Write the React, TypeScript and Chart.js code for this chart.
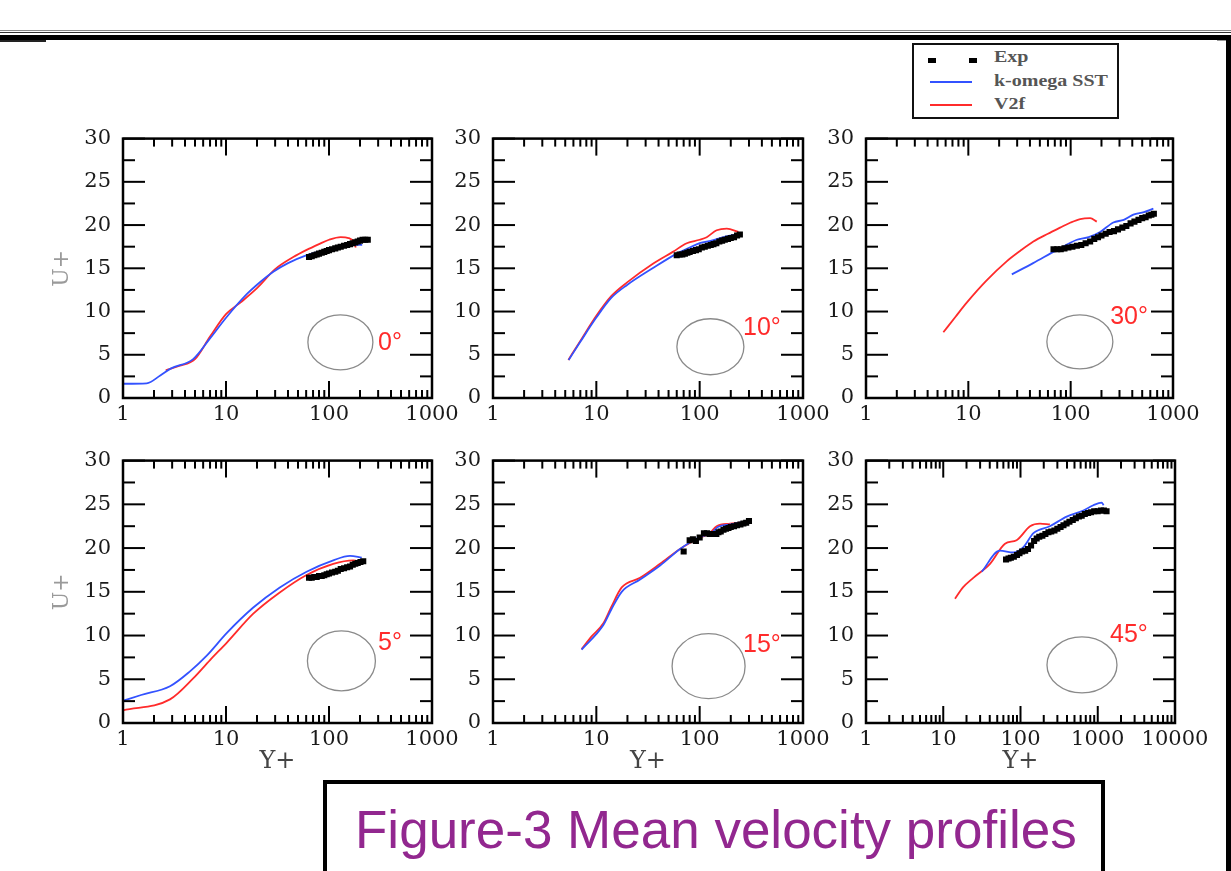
import React, { useEffect, useRef } from 'react';
import { Chart, registerables } from 'chart.js';

Chart.register(...registerables);

type Pt = [number, number];

// ---------- tick / text data ----------
const Y_TICKS = [0, 5, 10, 15, 20, 25, 30];
const X_TICKS_3 = [1, 10, 100, 1000];
const X_TICKS_4 = [1, 10, 100, 1000, 10000];
const ANGLE_LABELS = ['0°', '10°', '30°', '5°', '15°', '45°'];
const SERIES_NAMES = ['Exp', 'k-omega SST', 'V2f'];
const X_TITLE = 'Y+';
const Y_TITLE = 'U+';
const CAPTION = 'Figure-3 Mean velocity profiles';

// ---------- series (Y+, U+) ----------
const exp0: Pt[] = [[64, 16.3], [68, 16.4], [72, 16.5], [76, 16.6], [80, 16.7], [85, 16.8], [90, 16.9], [95, 17.0], [100, 17.1], [107, 17.2], [115, 17.3], [122, 17.4], [130, 17.5], [140, 17.6], [150, 17.7], [160, 17.8], [170, 17.9], [180, 18.0], [190, 18.1], [200, 18.2], [212, 18.3], [225, 18.3], [238, 18.3]];
const sst0: Pt[] = [[1, 1.65], [1.7, 1.7], [2.3, 2.6], [2.9, 3.4], [4.8, 4.5], [7, 6.9], [10.2, 9.4], [15.9, 12.0], [20, 13.1], [28.8, 14.6], [40, 15.6], [60, 16.5], [90, 17.1], [128, 17.5], [170, 17.7], [210, 17.7]];
const v2f0: Pt[] = [[2.6, 3.2], [3.5, 3.7], [5, 4.5], [7, 7.1], [10, 9.7], [14, 11.1], [20, 12.7], [30, 14.9], [45, 16.3], [60, 17.1], [80, 17.8], [100, 18.3], [130, 18.6], [155, 18.5], [175, 18.0], [182, 17.4]];

const exp10: Pt[] = [[60, 16.5], [64, 16.6], [68, 16.6], [72, 16.7], [76, 16.8], [80, 16.9], [86, 17.0], [92, 17.1], [98, 17.2], [105, 17.4], [112, 17.5], [120, 17.6], [128, 17.7], [136, 17.8], [145, 17.9], [155, 18.1], [165, 18.2], [175, 18.3], [188, 18.4], [200, 18.5], [215, 18.6], [230, 18.8], [245, 18.9]];
const sst10: Pt[] = [[5.4, 4.4], [7, 6.5], [10, 9.3], [14, 11.6], [20, 13.1], [35, 15.0], [60, 16.7], [80, 17.4], [100, 17.9], [130, 18.2], [180, 18.7], [245, 19.0]];
const v2f10: Pt[] = [[5.36, 4.4], [7, 6.6], [10, 9.5], [14, 11.8], [20, 13.4], [35, 15.5], [55, 16.9], [75, 17.9], [100, 18.3], [117, 18.6], [146, 19.4], [183, 19.6], [237, 19.2]];

const exp30: Pt[] = [[68, 17.2], [74, 17.2], [80, 17.2], [87, 17.3], [95, 17.4], [104, 17.5], [115, 17.6], [127, 17.7], [140, 17.9], [155, 18.1], [170, 18.4], [185, 18.6], [200, 18.8], [220, 19.0], [240, 19.2], [265, 19.3], [290, 19.5], [320, 19.7], [350, 19.9], [385, 20.2], [420, 20.4], [460, 20.6], [500, 20.8], [540, 20.9], [580, 21.1], [615, 21.2], [650, 21.3]];
const sst30: Pt[] = [[26.6, 14.3], [43, 15.6], [73, 17.1], [115, 18.3], [150, 18.6], [194, 19.2], [261, 20.3], [330, 20.6], [410, 21.2], [520, 21.5], [643, 21.9]];
const v2f30: Pt[] = [[5.7, 7.6], [7.5, 9.4], [9.6, 11.0], [15.1, 13.6], [23.7, 15.8], [32, 17.0], [43.2, 18.1], [60, 19.0], [78.8, 19.7], [100, 20.3], [124, 20.7], [155, 20.8], [180, 20.4]];

const exp5: Pt[] = [[64, 16.6], [68, 16.6], [72, 16.7], [76, 16.7], [80, 16.8], [85, 16.8], [90, 16.9], [95, 17.0], [100, 17.1], [107, 17.2], [115, 17.3], [122, 17.4], [130, 17.6], [140, 17.7], [150, 17.8], [160, 17.9], [170, 18.1], [180, 18.2], [190, 18.3], [202, 18.4], [215, 18.5]];
const sst5: Pt[] = [[1, 2.55], [1.5, 3.2], [2.86, 4.2], [4.47, 5.9], [6.5, 7.7], [10.2, 10.3], [18.4, 13.2], [33.3, 15.5], [60.6, 17.3], [110, 18.6], [160, 19.1], [208, 18.9]];
const v2f5: Pt[] = [[1, 1.45], [2.86, 2.7], [4.8, 5.1], [7, 7.2], [10.2, 9.2], [18.4, 12.5], [33, 14.9], [60, 16.9], [110, 18.2], [172, 18.6], [208, 18.4]];

const exp15: Pt[] = [[70, 19.6], [80, 20.9], [86, 21.0], [92, 20.8], [100, 21.2], [110, 21.7], [118, 21.7], [125, 21.6], [135, 21.6], [145, 21.6], [152, 21.8], [160, 21.9], [170, 22.1], [180, 22.2], [190, 22.3], [200, 22.4], [215, 22.5], [230, 22.6], [248, 22.7], [265, 22.8], [282, 22.9], [300, 23.1]];
const sst15: Pt[] = [[7.2, 8.4], [11.7, 11.2], [14, 13.0], [17.6, 15.0], [26.5, 16.4], [41.4, 18.0], [64.6, 19.9], [101, 21.3], [130, 21.7], [150, 22.4], [200, 22.7], [290, 23.1]];
const v2f15: Pt[] = [[7.2, 8.45], [9, 9.9], [11.7, 11.4], [14, 13.3], [17.6, 15.5], [26.5, 16.6], [41.4, 18.2], [64.6, 19.9], [101, 21.2], [125, 21.7], [146, 22.5], [197, 22.8], [296, 23.0]];

const exp45: Pt[] = [[65, 18.7], [70, 18.8], [75, 18.9], [82, 19.0], [90, 19.2], [97, 19.4], [105, 19.6], [115, 19.7], [125, 19.9], [137, 20.3], [150, 20.8], [162, 21.1], [175, 21.3], [192, 21.4], [210, 21.6], [230, 21.8], [250, 21.9], [275, 22.0], [300, 22.2], [330, 22.4], [360, 22.6], [395, 22.8], [430, 23.0], [475, 23.2], [520, 23.4], [570, 23.6], [620, 23.7], [680, 23.9], [750, 24.0], [820, 24.1], [900, 24.2], [1000, 24.2], [1100, 24.3], [1200, 24.3], [1300, 24.2]];
const sst45: Pt[] = [[31.5, 17.3], [54, 19.7], [81, 19.5], [109, 20.1], [147, 21.7], [240, 22.5], [396, 23.6], [651, 24.3], [877, 24.9], [1125, 25.2], [1190, 24.9]];
const v2f45: Pt[] = [[14.2, 14.2], [18, 15.5], [24.5, 16.6], [40.3, 18.2], [63, 20.5], [89, 20.9], [133, 22.5], [179, 22.8], [240, 22.7]];

// ---------- panel layout ----------
interface PanelCfg {
  exp: Pt[]; sst: Pt[]; v2f: Pt[];
  xTicks: number[]; angle: string;
  left: number; top: number; w: number; h: number;
  xTitle: boolean; yTitle: boolean;
  ell: { x: number; y: number; rx: number; ry: number };
  lab: { x: number; y: number };
}

const PANELS: PanelCfg[] = [
  { exp: exp0, sst: sst0, v2f: v2f0, xTicks: X_TICKS_3, angle: ANGLE_LABELS[0], left: 123, top: 130, w: 309, h: 268, xTitle: false, yTitle: true, ell: { x: 129, y: 6.44, rx: 32.5, ry: 27.5 }, lab: { x: 299, y: 6.4 } },
  { exp: exp10, sst: sst10, v2f: v2f10, xTicks: X_TICKS_3, angle: ANGLE_LABELS[1], left: 493, top: 130, w: 310, h: 268, xTitle: false, yTitle: false, ell: { x: 127, y: 5.93, rx: 33.5, ry: 28 }, lab: { x: 263, y: 8.06 } },
  { exp: exp30, sst: sst30, v2f: v2f30, xTicks: X_TICKS_3, angle: ANGLE_LABELS[2], left: 866, top: 130, w: 307, h: 268, xTitle: false, yTitle: false, ell: { x: 123, y: 6.5, rx: 33, ry: 27 }, lab: { x: 243, y: 9.3 } },
  { exp: exp5, sst: sst5, v2f: v2f5, xTicks: X_TICKS_3, angle: ANGLE_LABELS[3], left: 123, top: 452, w: 309, h: 271, xTitle: true, yTitle: true, ell: { x: 132, y: 7.1, rx: 34, ry: 30 }, lab: { x: 299, y: 9.1 } },
  { exp: exp15, sst: sst15, v2f: v2f15, xTicks: X_TICKS_3, angle: ANGLE_LABELS[4], left: 493, top: 452, w: 310, h: 271, xTitle: true, yTitle: false, ell: { x: 122, y: 6.5, rx: 36.5, ry: 32.5 }, lab: { x: 263, y: 8.86 } },
  { exp: exp45, sst: sst45, v2f: v2f45, xTicks: X_TICKS_4, angle: ANGLE_LABELS[5], left: 866, top: 452, w: 309, h: 271, xTitle: true, yTitle: false, ell: { x: 625, y: 6.64, rx: 35, ry: 28 }, lab: { x: 1442, y: 10.1 } },
];

const L = 80, R = 40, T = 16;
const BLUE = '#3352ff';
const RED = '#ff2b2b';
const TICK_FONT = { family: '"DejaVu Serif", serif', size: 21 };

const framePlugin = {
  id: 'frame',
  beforeDatasetsDraw(chart: any, _args: any, opts: any) {
    const { ctx, scales: { x, y } } = chart;
    ctx.save();
    ctx.strokeStyle = '#8a8a8a';
    ctx.lineWidth = 1.3;
    ctx.beginPath();
    ctx.ellipse(x.getPixelForValue(opts.ell.x), y.getPixelForValue(opts.ell.y), opts.ell.rx, opts.ell.ry, 0, 0, Math.PI * 2);
    ctx.stroke();
    ctx.fillStyle = RED;
    ctx.font = '25px "Liberation Sans", Arial, sans-serif';
    ctx.textBaseline = 'middle';
    ctx.textAlign = 'left';
    ctx.fillText(opts.text, x.getPixelForValue(opts.lab.x), y.getPixelForValue(opts.lab.y));
    ctx.restore();
  },
  afterDraw(chart: any) {
    const { ctx, chartArea: { left, right, top, bottom }, scales: { x, y } } = chart;
    ctx.save();
    ctx.strokeStyle = '#000';
    ctx.lineWidth = 2;
    const line = (x1: number, y1: number, x2: number, y2: number) => {
      ctx.beginPath(); ctx.moveTo(x1, y1); ctx.lineTo(x2, y2); ctx.stroke();
    };
    for (let d = 1; d <= x.max; d *= 10) {
      for (let k = 1; k < 10; k++) {
        const v = d * k;
        if (v > x.max + 1e-9) break;
        const px = x.getPixelForValue(v);
        const len = k === 1 ? 17 : 8;
        line(px, bottom, px, bottom - len);
        line(px, top, px, top + len);
      }
    }
    for (let v = 0; v <= 30; v += 2.5) {
      const py = y.getPixelForValue(v);
      const len = v % 5 === 0 ? 22 : 12;
      line(left, py, left + len, py);
      line(right, py, right - len, py);
    }
    ctx.lineWidth = 2.5;
    ctx.strokeRect(left, top, right - left, bottom - top);
    ctx.restore();
  },
};

function Panel({ cfg }: { cfg: PanelCfg }) {
  const ref = useRef<HTMLCanvasElement>(null);
  const B = cfg.xTitle ? 55 : 32;
  const cw = cfg.w + L + R;
  const ch = cfg.h + T + B;
  useEffect(() => {
    const toXY = (a: Pt[]) => a.map(([x, y]) => ({ x, y }));
    const chart = new Chart(ref.current as HTMLCanvasElement, {
      type: 'scatter',
      data: {
        datasets: [
          { label: SERIES_NAMES[0], data: toXY(cfg.exp), showLine: false, pointStyle: 'rect', pointRadius: 4.3, backgroundColor: '#000', borderColor: '#000', borderWidth: 0 },
          { label: SERIES_NAMES[1], data: toXY(cfg.sst), showLine: true, pointRadius: 0, borderColor: BLUE, borderWidth: 1.8, cubicInterpolationMode: 'monotone' },
          { label: SERIES_NAMES[2], data: toXY(cfg.v2f), showLine: true, pointRadius: 0, borderColor: RED, borderWidth: 1.8, cubicInterpolationMode: 'monotone' },
        ],
      } as any,
      options: {
        responsive: false,
        animation: false,
        devicePixelRatio: 1,
        events: [],
        layout: { padding: { left: 0, right: R, top: T, bottom: 0 } },
        plugins: {
          legend: { display: false },
          tooltip: { enabled: false },
          frame: { ell: cfg.ell, lab: cfg.lab, text: cfg.angle },
        } as any,
        scales: {
          x: {
            type: 'logarithmic',
            position: 'bottom',
            min: cfg.xTicks[0],
            max: cfg.xTicks[cfg.xTicks.length - 1],
            afterBuildTicks: (s: any) => { s.ticks = cfg.xTicks.map((v) => ({ value: v })); },
            afterFit: (s: any) => { s.height = B; },
            grid: { display: false, drawTicks: false },
            border: { display: false },
            ticks: { autoSkip: false, maxRotation: 0, minRotation: 0, padding: 4, color: '#1a1a1a', font: TICK_FONT, callback: (v: any) => String(v) },
            title: { display: cfg.xTitle, text: X_TITLE, color: '#444', font: { family: '"DejaVu Serif", serif', size: 24 }, padding: { top: 0, bottom: 2 } },
          },
          y: {
            type: 'linear',
            min: Y_TICKS[0],
            max: Y_TICKS[Y_TICKS.length - 1],
            afterBuildTicks: (s: any) => { s.ticks = Y_TICKS.map((v) => ({ value: v })); },
            afterFit: (s: any) => { s.width = L; },
            grid: { display: false, drawTicks: false },
            border: { display: false },
            ticks: { padding: 12, color: '#1a1a1a', font: TICK_FONT, callback: (v: any) => String(v) },
            title: { display: cfg.yTitle, text: Y_TITLE, color: '#9a9a9a', font: { family: '"DejaVu Serif", serif', size: 22 }, padding: { top: 6, bottom: 0 } },
          },
        },
      } as any,
      plugins: [framePlugin as any],
    });
    return () => chart.destroy();
  }, []);
  return (
    <canvas
      ref={ref}
      width={cw}
      height={ch}
      style={{ position: 'absolute', left: cfg.left - L, top: cfg.top - T, width: cw, height: ch }}
    />
  );
}

const abs = (left: number, top: number, width: number, height: number, bg: string): React.CSSProperties => ({
  position: 'absolute', left, top, width, height, background: bg,
});

export default function App() {
  const legendText: React.CSSProperties = {
    position: 'absolute', left: 80, height: 20, lineHeight: '20px',
    font: 'bold 16px "Liberation Serif", serif', color: '#555',
    transform: 'scaleX(1.25)', transformOrigin: 'left center', whiteSpace: 'nowrap',
  };
  return (
    <div style={{ position: 'relative', width: 1231, height: 871, overflow: 'hidden', background: '#fff' }}>
      <style>{'body{margin:0;background:#fff}'}</style>
      {/* top rules */}
      <div style={abs(0, 30, 1231, 1.3, '#888')} />
      <div style={abs(0, 32.3, 1231, 1, '#333')} />
      <div style={abs(0, 34.7, 1231, 5.3, '#000')} />
      <div style={abs(0, 40, 46, 1.5, '#222')} />
      <div style={abs(1226, 34.7, 5, 840, '#000')} />
      <div style={abs(1217, 40, 9, 1, '#999')} />

      {PANELS.map((p, i) => <Panel key={i} cfg={p} />)}

      {/* legend */}
      <div style={{ position: 'absolute', left: 912, top: 43, width: 207, height: 76, border: '2px solid #111', boxSizing: 'border-box', background: '#fff' }}>
        <div style={abs(14, 13, 8, 5, '#000')} />
        <div style={abs(55, 13, 8, 5, '#000')} />
        <div style={{ ...legendText, top: 3 }}>{SERIES_NAMES[0]}</div>
        <div style={abs(16, 36, 42, 2, BLUE)} />
        <div style={{ ...legendText, top: 27 }}>{SERIES_NAMES[1]}</div>
        <div style={abs(16, 59, 42, 2, RED)} />
        <div style={{ ...legendText, top: 50 }}>{SERIES_NAMES[2]}</div>
      </div>

      {/* caption */}
      <div style={{ position: 'absolute', left: 323, top: 780, width: 782, height: 120, border: '4px solid #000', boxSizing: 'border-box', background: '#fff' }} />
      <div style={{ position: 'absolute', left: 355, top: 803, font: '53px "Liberation Sans", Arial, sans-serif', lineHeight: '53px', color: '#92278f', whiteSpace: 'nowrap' }}>
        {CAPTION}
      </div>
    </div>
  );
}
